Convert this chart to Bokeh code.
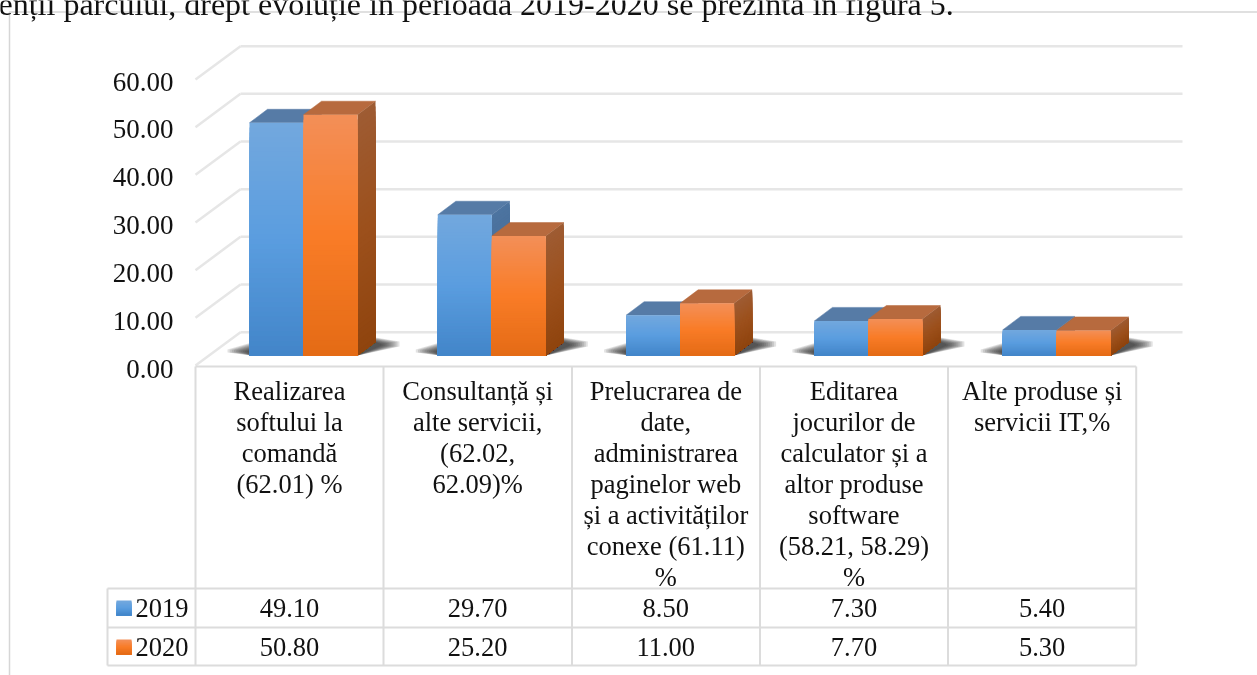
from bokeh.embed import file_html
from bokeh.resources import INLINE
from bokeh.plotting import figure
from bokeh.models import Range1d
from bokeh.core.properties import value

categories = [
    ["Realizarea", "softului la", "comandă", "(62.01) %"],
    ["Consultanță și", "alte servicii,", "(62.02,", "62.09)%"],
    ["Prelucrarea de", "date,", "administrarea", "paginelor web", "și a activităților", "conexe (61.11)", "%"],
    ["Editarea", "jocurilor de", "calculator și a", "altor produse", "software", "(58.21, 58.29)", "%"],
    ["Alte produse și", "servicii IT,%"],
]
series_names = ["2019", "2020"]
values_2019 = [49.10, 29.70, 8.50, 7.30, 5.40]
values_2020 = [50.80, 25.20, 11.00, 7.70, 5.30]
y_ticks = [0, 10, 20, 30, 40, 50, 60]
caption = "enții parcului, drept evoluție în perioada 2019-2020 se prezintă în figura 5."

W, H = 1257, 675
FONT = value("Liberation Serif")
INK = "#111111"
GRID = "#e6e6e6"
TABLE = "#dcdcdc"

BAR_PX = 54.0
STEP_PX = 188.3
X0 = 303.0
U = 4.74
Y0 = 355.0
DX, DY = 18.0, 13.5
dx_u = DX / STEP_PX
dy_u = DY / U
bw = BAR_PX / STEP_PX

p = figure(width=W, height=H, output_backend="svg", toolbar_location=None,
           x_range=Range1d(-X0 / STEP_PX, (W - X0) / STEP_PX),
           y_range=Range1d((Y0 - H) / U, Y0 / U),
           min_border=0, min_border_left=0, min_border_right=0, min_border_top=0, min_border_bottom=0,
           outline_line_color=None, styles={"position": "fixed", "left": "0", "top": "0"})
p.axis.visible = False
p.grid.visible = False
p.background_fill_color = "white"
p.border_fill_color = "white"

p.extra_x_ranges["px"] = Range1d(0, W)
p.extra_y_ranges["px"] = Range1d(H, 0)
WALL_U = 4.767
p.extra_y_ranges["wall"] = Range1d((331.7 - H) / WALL_U, 331.7 / WALL_U)
TICK_U = 4.783
p.extra_y_ranges["tick"] = Range1d((368.0 - H) / TICK_U, 368.0 / TICK_U)
COL_X0, COL_W = 289.0, 188.15
p.extra_x_ranges["col"] = Range1d(-COL_X0 / COL_W, (W - COL_X0) / COL_W)

# page frame
p.line([9, 9, W], [H, 11.5, 11.5], x_range_name="px", y_range_name="px", line_color="#d6d6d6", line_width=1.5)
p.text([-2], [3.5], text=[caption], x_range_name="px", y_range_name="px", text_font=FONT, text_font_size="32px",
       text_color=INK, text_baseline="alphabetic", text_align="left")

# walls
for t in y_ticks:
    p.line([240, 1182], [t, t], x_range_name="px", y_range_name="wall", line_color=GRID, line_width=2.5)
for t in y_ticks:
    yf = 365.0 - WALL_U * t
    p.line([195, 240], [yf, yf - 33.3], x_range_name="px", y_range_name="px", line_color=GRID, line_width=2.5)


def mix(c1, c2, f):
    return "#%02x%02x%02x" % tuple(round(a + (b - a) * f) for a, b in zip(c1, c2))


def gradient(stops, f):
    if f < 0.5:
        return mix(stops[0], stops[1], f * 2)
    return mix(stops[1], stops[2], (f - 0.5) * 2)


BLUE = dict(front=[(0x73, 0xa8, 0xde), (0x5a, 0x9d, 0xdf), (0x42, 0x85, 0xc9)],
            side=[(0x4d, 0x74, 0xa0), (0x44, 0x6c, 0x98), (0x3a, 0x60, 0x8a)], top="#567ba6")
ORANGE = dict(front=[(0xf3, 0x8f, 0x58), (0xf9, 0x7c, 0x27), (0xe4, 0x6b, 0x15)],
              side=[(0x9e, 0x5c, 0x33), (0x9c, 0x50, 0x1c), (0x8f, 0x44, 0x0e)], top="#b76a3e")

# soft floor shadows under each group
LAYERS = 10
for i in range(len(categories)):
    xl = i - bw
    xr = i + bw
    for k in range(LAYERS):
        t = 1 - k / LAYERS
        lx = xl - 22 * t / STEP_PX
        p.patch([xl + 2 / STEP_PX, lx, lx, xl + 2 / STEP_PX],
                [0, (4 - 1 * t) / U, (4 + 2 * t) / U, (5 + 8 * t) / U],
                fill_color="#1c1c1c", fill_alpha=0.13, line_color=None)
        rx = xr + (22 + 20 * t) / STEP_PX
        p.patch([xr, rx, rx, xr + 18 / STEP_PX],
                [0, (10 - 1 * t) / U, (11 + 3 * t) / U, (13 + 5 * t) / U],
                fill_color="#1c1c1c", fill_alpha=0.13, line_color=None)


def draw_bar(left, v, pal):
    right = left + bw
    p.patch([left, right, right + dx_u, left + dx_u], [v, v, v + dy_u, v + dy_u],
            fill_color=pal["top"], line_color=pal["top"], line_width=0.5)
    # graded side and front faces: painted from the top band down, each one reaching the floor
    n = 48
    for k in range(n, 0, -1):
        top = v * k / n
        f = 1 - (k - 0.5) / n
        p.patch([right, right + dx_u, right + dx_u, right], [0, dy_u, top + dy_u, top],
                fill_color=gradient(pal["side"], f), line_color=None)
    for k in range(n, 0, -1):
        top = v * k / n
        f = 1 - (k - 0.5) / n
        p.quad(left=[left], right=[right], bottom=[0], top=[top], fill_color=gradient(pal["front"], f),
               line_color=None)


for i, (v19, v20) in enumerate(zip(values_2019, values_2020)):
    draw_bar(i - bw, v19, BLUE)
    draw_bar(i, v20, ORANGE)

# value axis labels
p.text([173] * len(y_ticks), y_ticks, text=[f"{t:.2f}" for t in y_ticks], x_range_name="px", y_range_name="tick",
       text_font=FONT, text_font_size="27px", text_color=INK, text_align="right", text_baseline="middle")

# data table grid
for x in [195, 383, 571.5, 759.5, 947.5, 1135.7]:
    p.line([x, x], [366, 665], x_range_name="px", y_range_name="px", line_color=TABLE, line_width=2)
p.line([195, 1135.7], [366, 366], x_range_name="px", y_range_name="px", line_color=TABLE, line_width=2)
p.line([107, 107], [588, 665], x_range_name="px", y_range_name="px", line_color=TABLE, line_width=2)
for y in [588, 627, 665]:
    p.line([107, 1135.7], [y, y], x_range_name="px", y_range_name="px", line_color=TABLE, line_width=2)

# category cells
for i, lines in enumerate(categories):
    p.text([i] * len(lines), [390 + 31.1 * k for k in range(len(lines))], text=lines,
           x_range_name="col", y_range_name="px", text_font=FONT, text_font_size="26.5px", text_color=INK,
           text_align="center", text_baseline="middle")

# series rows
rows = [(series_names[0], values_2019, 607.5, BLUE), (series_names[1], values_2020, 646.5, ORANGE)]
for name, vals, y, pal in rows:
    n = 15
    for k in range(n):
        p.quad(left=[116], right=[131], top=[y - 7.5 + k], bottom=[y + 7.5],
               x_range_name="px", y_range_name="px",
               fill_color=gradient(pal["front"], k / (n - 1)), line_color=None)
    p.text([135], [y], text=[name], x_range_name="px", y_range_name="px", text_font=FONT, text_font_size="26.5px",
           text_color=INK, text_align="left", text_baseline="middle")
    p.text(list(range(len(vals))), [y] * len(vals), text=[f"{v:.2f}" for v in vals], x_range_name="col",
           y_range_name="px", text_font=FONT, text_font_size="26.5px", text_color=INK, text_align="center",
           text_baseline="middle")

open("out.html", "w").write(file_html(p, INLINE))
